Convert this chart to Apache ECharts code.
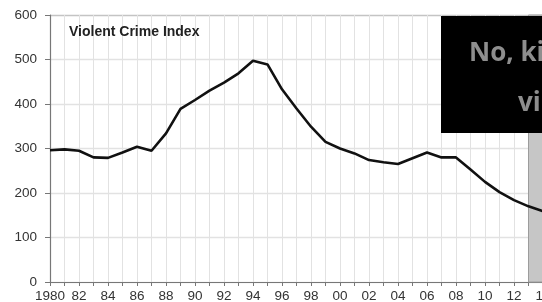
<!DOCTYPE html>
<html>
<head>
<meta charset="utf-8">
<script src="https://cdn.jsdelivr.net/npm/echarts@6/dist/echarts.min.js"></script>
<style>
  html, body { margin: 0; padding: 0; background: #fff; }
  #chart { width: 542px; height: 302px; }
</style>
</head>
<body>
<div id="chart"></div>
<script>
// data
var years = [1980, 1981, 1982, 1983, 1984, 1985, 1986, 1987, 1988, 1989,
             1990, 1991, 1992, 1993, 1994, 1995, 1996, 1997, 1998, 1999,
             2000, 2001, 2002, 2003, 2004, 2005, 2006, 2007, 2008, 2009,
             2010, 2011, 2012, 2013, 2014]
var crimeIndex = [296, 298, 295, 280, 279, 291, 304, 295, 334, 389,
                  409, 430, 448, 469, 497, 489, 433, 390, 349, 315,
                  300, 289, 274, 269, 265, 278, 291, 280, 280, 253,
                  225, 202, 184, 170, 159]
var shadeFrom = 2013
var shadeTo = 2014
var yTicks = [0, 100, 200, 300, 400, 500, 600]
var overlayLines = ['No, ki', 'vi']

var points = years.map(function (y, i) { return [y, crimeIndex[i]] })

var myChart = echarts.init(document.getElementById('chart'))
myChart.setOption({
  animation: false,
  title: {
    text: 'Violent Crime Index',
    left: 69,
    top: 25,
    padding: 0,
    textStyle: { fontFamily: 'Liberation Sans', fontSize: 14, fontWeight: 'bold', color: '#222' }
  },
  // grid runs past the right edge, the picture is cut there
  grid: { left: 50, top: 15, width: 493, bottom: 20, outerBoundsMode: 'none', containLabel: false },
  xAxis: {
    type: 'value',
    min: years[0],
    max: years[years.length - 1],
    interval: 1,
    axisLine: { lineStyle: { color: '#777', width: 1.2 } },
    axisTick: { show: true, length: 4, lineStyle: { color: '#777' } },
    axisLabel: {
      margin: 7,
      color: '#333',
      fontFamily: 'Liberation Sans',
      fontSize: 13.5,
      showMinLabel: true,
      showMaxLabel: true,
      hideOverlap: false,
      formatter: function (v) {
        if (v === years[0]) return String(v)
        return v % 2 === 0 ? String(v).slice(2) : ''
      }
    },
    splitLine: { show: true, lineStyle: { color: '#e2e2e2', width: 1 } }
  },
  yAxis: {
    type: 'value',
    min: yTicks[0],
    max: yTicks[yTicks.length - 1],
    interval: 100,
    axisLine: { show: true, lineStyle: { color: '#777', width: 1.2 } },
    axisTick: { show: true, length: 5, lineStyle: { color: '#777' } },
    axisLabel: { margin: 13, color: '#333', fontFamily: 'Liberation Sans', fontSize: 13.5 },
    splitLine: {
      show: true,
      lineStyle: { color: ['#e2e2e2', '#e2e2e2', '#e2e2e2', '#e2e2e2', '#e2e2e2', '#e2e2e2', '#c4c4c4'], width: 1.3 }
    }
  },
  series: [
    {
      type: 'line',
      data: points,
      showSymbol: false,
      lineStyle: { color: '#111', width: 2.6 },
      z: 5,
      markArea: {
        silent: true,
        itemStyle: { color: '#c6c6c6', borderColor: '#9c9c9c', borderWidth: 1 },
        data: [[{ xAxis: shadeFrom }, { xAxis: shadeTo }]]
      }
    }
  ],
  graphic: [
    { type: 'rect', shape: { x: 441, y: 16, width: 110, height: 117 }, style: { fill: '#000' }, z: 100 },
    { type: 'text', x: 469, y: 54, z: 101,
      style: { text: overlayLines[0], fill: '#8e8e8e', font: 'bold 26px "Open Sans"', verticalAlign: 'middle' } },
    { type: 'text', x: 518, y: 104, z: 101,
      style: { text: overlayLines[1], fill: '#8e8e8e', font: 'bold 26px "Open Sans"', verticalAlign: 'middle' } }
  ]
})
</script>
</body>
</html>
